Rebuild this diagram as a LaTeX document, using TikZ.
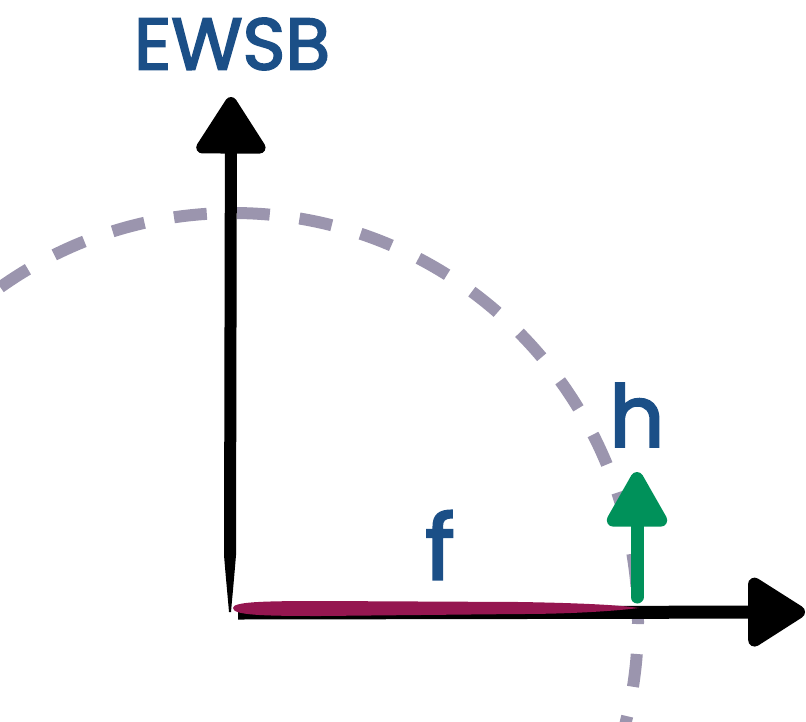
\documentclass[tikz,border=0pt]{standalone}
\usepackage{fontspec}
\setmainfont{Poppins}
\newfontfamily\labelfont{Poppins}[FakeBold=2.6]
\usetikzlibrary{arrows.meta}

\definecolor{labelblue}{HTML}{1B4F87}
\definecolor{higgsgreen}{HTML}{00915A}
\definecolor{fmagenta}{HTML}{951650}
\definecolor{vacgrey}{HTML}{9B95AE}

\tikzset{
  axis/.style={line width=12pt, black, line cap=round},
  vacuum/.style={line width=12pt, vacgrey, dash pattern=on 33pt off 30pt, dash phase=31pt},
  label/.style={text=labelblue, inner sep=0pt, anchor=center},
}

\begin{document}
\begin{tikzpicture}[x=1pt, y=-1pt]
\useasboundingbox (0,0) rectangle (806,721);

% key points
\coordinate (O) at (238,613);
\coordinate (Ymid) at (230,555);
\coordinate (Ytip) at (231,97);
\coordinate (Xtip) at (805,612);
\coordinate (Hbase) at (637,597);
\coordinate (Htip) at (637,472);
\coordinate (C) at (233,622);

% dashed vacuum circle
\begin{scope}
  \clip (0,0) rectangle (806,721);
  \draw[vacuum] (C) ellipse [x radius=405, y radius=409];
\end{scope}

% vertical axis: tapered brush end, then the full-width shaft and head
\fill (224,555) -- (236,555) .. controls (234,580) and (232,600) .. (231,612)
  -- (229,612) .. controls (228,600) and (226,580) .. cycle;
\draw[axis, line cap=butt, -{Triangle[length=62pt, width=76pt, round]}] (Ymid) -- (Ytip);

% horizontal axis
\draw[axis, line width=13pt, line cap=butt, -{Triangle[length=63pt, width=76pt, round]}] (O) -- (Xtip);

% f segment along the horizontal axis
\fill[fmagenta] (233,608) .. controls (233,602) and (260,601) .. (320,601)
  -- (520,602) .. controls (580,603) and (620,605) .. (639,608)
  .. controls (615,611) and (570,614) .. (520,614)
  -- (320,616) .. controls (260,616) and (233,615) .. cycle;

% Higgs arrow
\draw[line width=13pt, higgsgreen, line cap=round, -{Triangle[length=62pt, width=66pt, round]}] (Hbase) -- (Htip);

% labels
\node[label, font=\labelfont\fontsize{73}{73}\selectfont] (ewsb) at (232,44) {EWSB};
\node[label, font=\labelfont\fontsize{86}{86}\selectfont] (h) at (637,415) {h};
\node[label, font=\labelfont\fontsize{90}{90}\selectfont] (f) at (440,545) {f};
\end{tikzpicture}
\end{document}
